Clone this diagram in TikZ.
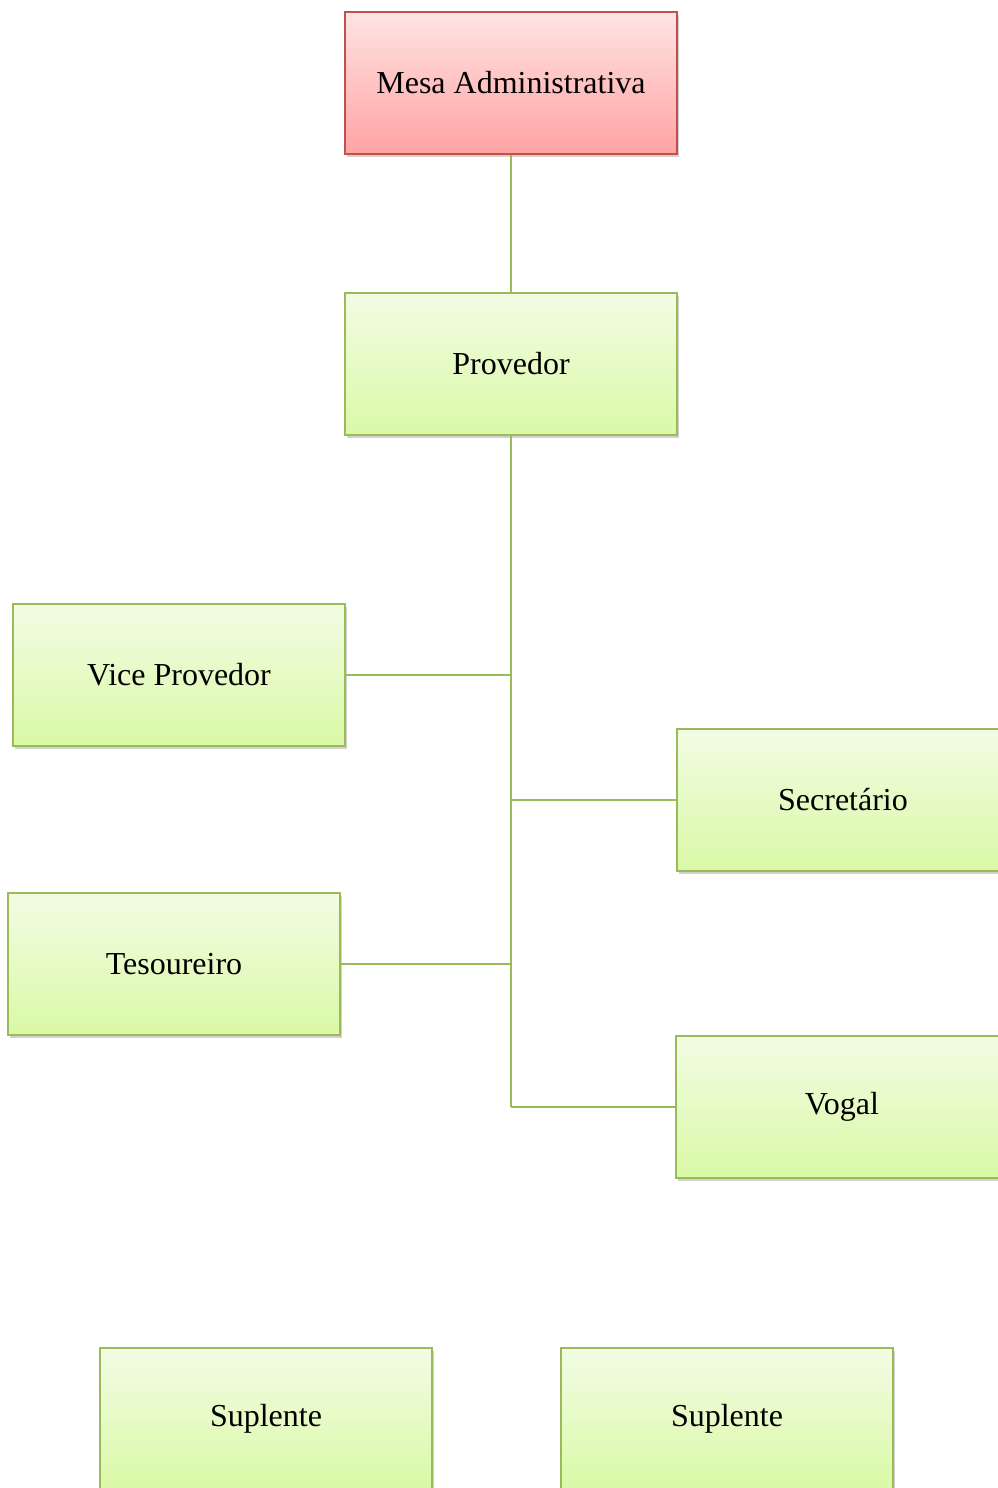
\documentclass[tikz,border=0pt]{standalone}
\usepackage{fontspec}
\setmainfont{Liberation Serif}
\usetikzlibrary{shadows}
\definecolor{lnG}{HTML}{9BBB59}
\definecolor{topG}{HTML}{F2FCE4}
\definecolor{botG}{HTML}{DAF9A6}
\definecolor{lnR}{HTML}{C0504D}
\definecolor{topR}{HTML}{FFE3E3}
\definecolor{botR}{HTML}{FFA3A3}
\tikzset{
  box/.style={rectangle, minimum width=249pt, minimum height=106.5pt, inner sep=0pt,
    font=\fontsize{24}{28}\selectfont, line width=1.2pt,
    drop shadow={opacity=0.35, shadow xshift=1.5pt, shadow yshift=-2pt}},
  gbox/.style={box, draw=lnG, top color=topG, bottom color=botG},
  rbox/.style={box, draw=lnR, top color=topR, bottom color=botR},
  conn/.style={draw=lnG, line width=1.2pt}
}
\begin{document}
\begin{tikzpicture}[x=0.75pt, y=-0.75pt]
\useasboundingbox (0,0) rectangle (998,1488);
\clip (0,0) rectangle (998,1488);
\fill[white] (0,0) rectangle (998,1488);
\node[rbox] (mesa) at (511,83) {Mesa Administrativa};
\node[gbox] (prov) at (511,364) {Provedor};
\node[gbox] (vice) at (179,675) {Vice Provedor};
\node[gbox] (sec) at (843,800) {Secretário};
\node[gbox] (tes) at (174,964) {Tesoureiro};
\node[gbox] (vog) at (842,1107) {Vogal};
\node[gbox] (sup1) at (266,1419) {Suplente};
\node[gbox] (sup2) at (727,1419) {Suplente};
\coordinate (j4) at (511,1107);
\path[conn] (mesa.south) -- (prov.north);
\path[conn] (prov.south) -- (j4);
\path[conn] (vice.east) -- (vice.east -| prov.south);
\path[conn] (sec.west) -- (sec.west -| prov.south);
\path[conn] (tes.east) -- (tes.east -| prov.south);
\path[conn] (j4) -- (vog.west);
\end{tikzpicture}
\end{document}
